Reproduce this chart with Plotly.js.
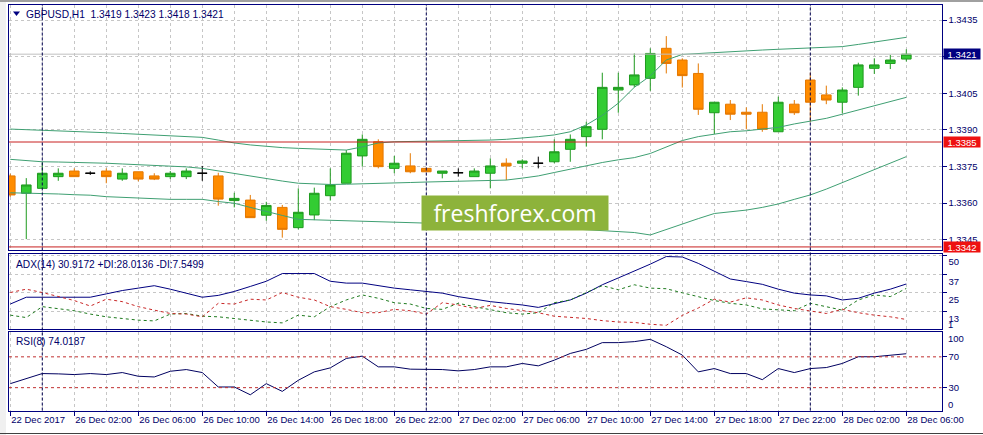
<!DOCTYPE html>
<html><head><meta charset="utf-8">
<script src="https://cdn.plot.ly/plotly-3.0.1.min.js"></script>
<style>html,body{margin:0;padding:0;background:#fff;overflow:hidden}#chart{width:983px;height:435px}</style>
</head><body><div id="chart"></div>
<script>
// ---------- DATA ----------
const timeLabels = ['22 Dec 2017','26 Dec 02:00','26 Dec 06:00','26 Dec 10:00','26 Dec 14:00','26 Dec 18:00','26 Dec 22:00','27 Dec 02:00','27 Dec 06:00','27 Dec 10:00','27 Dec 14:00','27 Dec 18:00','27 Dec 22:00','28 Dec 02:00','28 Dec 06:00'];
const symbolName = 'GBPUSD,H1';

const OPEN = [1.33711,1.33640,1.33660,1.33708,1.33731,1.33722,1.33731,1.33698,1.33728,1.33711,
1.33708,1.33708,1.33722,1.33711,1.33610,1.33612,1.33550,1.33582,1.33499,1.33551,
1.33630,1.33681,1.33793,1.33851,1.33742,1.33752,1.33742,1.33722,1.33724,1.33708,
1.33722,1.33763,1.33763,1.33763,1.33769,1.33820,1.33872,1.33902,1.34063,1.34084,
1.34111,1.34234,1.34186,1.34131,1.33970,1.34005,1.33972,1.33972,1.33892,1.34005,
1.34104,1.34043,1.34013,1.34074,1.34152,1.34172,1.34190];
const HIGH = [1.33720,1.33702,1.33767,1.33742,1.33742,1.33730,1.33742,1.33742,1.33728,1.33722,
1.33731,1.33742,1.33752,1.33724,1.33642,1.33633,1.33605,1.33592,1.33660,1.33663,
1.33742,1.33817,1.33881,1.33861,1.33793,1.33804,1.33742,1.33731,1.33742,1.33742,
1.33783,1.33783,1.33779,1.33790,1.33861,1.33881,1.33933,1.34134,1.34134,1.34213,
1.34234,1.34284,1.34193,1.34172,1.34013,1.34022,1.33992,1.34005,1.34036,1.34022,
1.34134,1.34081,1.34074,1.34175,1.34193,1.34207,1.34230];
const LOW = [1.33625,1.33452,1.33660,1.33691,1.33708,1.33715,1.33681,1.33691,1.33689,1.33694,
1.33698,1.33698,1.33691,1.33589,1.33582,1.33540,1.33527,1.33458,1.33492,1.33530,
1.33610,1.33681,1.33749,1.33742,1.33722,1.33722,1.33728,1.33701,1.33708,1.33708,
1.33660,1.33694,1.33742,1.33742,1.33763,1.33769,1.33831,1.33861,1.33970,1.34074,
1.34060,1.34131,1.34073,1.33961,1.33883,1.33940,1.33902,1.33892,1.33892,1.33961,
1.33931,1.34005,1.33968,1.34040,1.34129,1.34149,1.34180];
const CLOSE = [1.33633,1.33674,1.33722,1.33722,1.33708,1.33722,1.33708,1.33722,1.33698,1.33698,
1.33722,1.33731,1.33722,1.33616,1.33619,1.33540,1.33590,1.33492,1.33562,1.33640,
1.33674,1.33804,1.33861,1.33749,1.33763,1.33728,1.33728,1.33731,1.33724,1.33731,
1.33752,1.33752,1.33772,1.33763,1.33810,1.33861,1.33913,1.34074,1.34074,1.34125,
1.34213,1.34172,1.34122,1.33984,1.34013,1.33964,1.33964,1.33902,1.34013,1.33970,
1.34013,1.34022,1.34063,1.34166,1.34166,1.34186,1.34210];

const BB_UPPER = [1.33903,1.33901,1.33899,1.33896,1.33894,1.33891,1.33888,1.33885,1.33882,1.33878,
1.33875,1.33872,1.33869,1.33858,1.33846,1.33838,1.33831,1.33827,1.33824,1.33821,
1.33819,1.33817,1.33830,1.33846,1.33851,1.33852,1.33853,1.33854,1.33855,1.33855,
1.33858,1.33861,1.33865,1.33872,1.33879,1.33892,1.33920,1.33959,1.34009,1.34074,
1.34121,1.34186,1.34209,1.34213,1.34217,1.34221,1.34224,1.34227,1.34230,1.34232,
1.34234,1.34237,1.34241,1.34250,1.34259,1.34268,1.34279];
const BB_MIDDLE = [1.33779,1.33774,1.33769,1.33768,1.33767,1.33765,1.33763,1.33760,1.33757,1.33755,
1.33752,1.33748,1.33742,1.33731,1.33722,1.33711,1.33701,1.33690,1.33681,1.33678,
1.33676,1.33677,1.33678,1.33680,1.33682,1.33684,1.33686,1.33687,1.33689,1.33690,
1.33692,1.33694,1.33702,1.33711,1.33725,1.33739,1.33754,1.33766,1.33777,1.33786,
1.33803,1.33830,1.33856,1.33872,1.33883,1.33892,1.33896,1.33902,1.33910,1.33924,
1.33937,1.33947,1.33964,1.33981,1.33998,1.34016,1.34033];
const BB_LOWER = [1.33642,1.33641,1.33640,1.33637,1.33634,1.33632,1.33626,1.33623,1.33618,1.33615,
1.33615,1.33615,1.33615,1.33606,1.33599,1.33582,1.33564,1.33549,1.33533,1.33531,
1.33530,1.33529,1.33527,1.33526,1.33524,1.33522,1.33520,1.33518,1.33516,1.33514,
1.33512,1.33510,1.33506,1.33502,1.33498,1.33493,1.33489,1.33487,1.33483,1.33479,
1.33469,1.33492,1.33513,1.33536,1.33557,1.33564,1.33571,1.33582,1.33596,1.33615,
1.33633,1.33657,1.33683,1.33711,1.33735,1.33763,1.33790];

const ADX = [17.7,22.2,22.2,22.2,22.2,22.2,24.4,26.6,28.2,29.8,
27.5,24.9,22.2,23.4,26.0,29.3,32.7,37.8,37.8,37.8,
32.7,31.5,31.5,29.8,28.2,27.1,26.0,24.9,22.6,20.9,
19.3,18.2,17.1,15.5,18.2,20.4,24.9,30.4,34.9,39.4,
44.0,49.0,48.7,44.5,39.1,34.2,32.5,30.7,27.5,24.9,
23.7,23.1,20.4,21.5,24.9,27.5,30.9172];
const PLUS_DI = [10.4,8.8,16.0,14.8,13.3,11.1,9.3,8.2,7.1,6.6,
11.1,11.5,9.7,9.3,8.2,7.1,5.9,5.3,10.4,9.3,
16.0,20.4,23.7,21.5,18.6,17.7,14.8,14.2,18.2,16.0,
14.0,12.0,11.1,12.0,18.6,20.4,25.3,29.8,27.1,30.4,
28.2,27.8,25.1,22.6,20.0,18.2,17.1,14.5,13.7,13.3,
18.2,16.0,13.7,20.4,23.7,22.6,28.0136];
const MINUS_DI = [25.3,27.5,25.3,22.6,20.0,16.4,20.9,19.3,16.0,13.7,
11.5,11.1,9.3,18.2,17.7,20.9,20.4,25.3,22.2,20.4,
16.0,14.2,12.0,12.0,14.2,13.3,11.1,18.6,17.1,14.8,
16.8,14.8,13.3,12.0,9.7,8.8,8.2,6.8,5.9,5.6,
4.4,3.7,10.2,15.1,20.9,19.0,21.8,20.4,17.1,14.8,
13.3,11.5,14.2,12.0,10.4,9.3,7.5499];
const RSI = [35.2,41.8,48.3,47.9,47.0,48.3,47.0,49.6,44.8,43.9,
51.3,53.5,49.6,30.9,30.9,20.8,35.2,25.2,39.6,50.5,
55.7,67.9,70.9,57.0,57.0,54.0,53.5,53.5,51.8,53.5,
57.0,57.0,61.4,58.3,65.7,74.4,79.7,88.4,88.4,89.7,
92.7,83.1,72.3,50.5,54.8,48.3,48.3,40.4,54.8,49.6,
54.8,56.1,61.4,70.1,70.1,72.3,74.0187];

const priceTicks = [1.3435,1.3420,1.3405,1.3390,1.3375,1.3360,1.3345];
const hiddenPriceTick = 1.3420; // covered by the current-price box in the terminal
const priceLevels = [1.3385,1.3342];
const bidPrice = 1.3421;
const separators = [2,26,50];
const adxTicks = [50,37,25,13];
const adxMinLabel = 1;
const rsiLevels = [70,30];
const rsiBounds = [100,0];

// ---------- LAYOUT HELPERS ----------
const W = 983, H = 435;
const px = v => v / W;
const py = v => 1 - v / H;
const NAVY = '#000080';
const TXT = '#00006a';
const GRID = '#c6c6c6';
const FONT = 'Liberation Sans, Arial, sans-serif';
const FS = 9.5;
const FT = 10.2;

const idx = OPEN.map((_, i) => i);
const bodyIdx = idx.filter(i => OPEN[i] !== CLOSE[i]);
const dojiIdx = idx.filter(i => OPEN[i] === CLOSE[i]);
const pick = (arr, list) => list.map(i => arr[i]);

const labelIdx = timeLabels.map((_, k) => k * 4);
const gridIdx = labelIdx.slice(0, -1).map(v => v + 2);

const XDOM = [px(9), px(941.5)];
const XRANGE = [-0.08, 58.2];

function xAxis(anchor, labels) {
  return {
    domain: XDOM, range: XRANGE, anchor: anchor, fixedrange: true,
    showline: true, mirror: true, linecolor: NAVY, linewidth: 1, zeroline: false,
    showgrid: true, gridcolor: GRID, griddash: '3px,3px', gridwidth: 1,
    tickmode: 'array', tickvals: labelIdx, ticktext: timeLabels, tickangle: 0,
    showticklabels: labels, ticks: labels ? 'outside' : '', ticklen: 4, tickcolor: NAVY,
    ticklabelposition: 'outside right', ticklabeloverflow: 'allow',
    tickfont: {family: FONT, size: FS, color: TXT},
    minor: {tickmode: 'array', tickvals: gridIdx, showgrid: true, gridcolor: GRID, griddash: '3px,3px', gridwidth: 1, ticks: ''},
    rangeslider: {visible: false}
  };
}
function yAxis(anchor, dom, range, vals, text, extra) {
  return Object.assign({
    domain: dom, range: range, anchor: anchor, side: 'right', fixedrange: true,
    showline: true, mirror: true, linecolor: NAVY, linewidth: 1, zeroline: false,
    showgrid: true, gridcolor: GRID, griddash: '3px,3px', gridwidth: 1,
    tickmode: 'array', tickvals: vals, ticktext: text, tickangle: 0,
    ticks: 'outside', ticklen: 4, tickcolor: NAVY,
    tickfont: {family: FONT, size: FS, color: TXT}
  }, extra || {});
}

// ---------- TRACES ----------
const traces = [
  {type: 'candlestick', x: bodyIdx, open: pick(OPEN, bodyIdx), high: pick(HIGH, bodyIdx), low: pick(LOW, bodyIdx), close: pick(CLOSE, bodyIdx),
   xaxis: 'x', yaxis: 'y', hoverinfo: 'skip', whiskerwidth: 0,
   increasing: {line: {color: '#1f9a1f', width: 1}, fillcolor: '#33cc33'},
   decreasing: {line: {color: '#e57800', width: 1}, fillcolor: '#ff8c00'}},
  {type: 'candlestick', x: dojiIdx, open: pick(OPEN, dojiIdx), high: pick(HIGH, dojiIdx), low: pick(LOW, dojiIdx), close: pick(CLOSE, dojiIdx),
   xaxis: 'x', yaxis: 'y', hoverinfo: 'skip', whiskerwidth: 0,
   increasing: {line: {color: '#000000', width: 1}, fillcolor: '#000000'},
   decreasing: {line: {color: '#000000', width: 1}, fillcolor: '#000000'}},
  {type: 'scatter', mode: 'lines', x: idx, y: BB_UPPER, xaxis: 'x', yaxis: 'y', line: {color: '#3f9f72', width: 1}, hoverinfo: 'skip'},
  {type: 'scatter', mode: 'lines', x: idx, y: BB_MIDDLE, xaxis: 'x', yaxis: 'y', line: {color: '#3f9f72', width: 1}, hoverinfo: 'skip'},
  {type: 'scatter', mode: 'lines', x: idx, y: BB_LOWER, xaxis: 'x', yaxis: 'y', line: {color: '#3f9f72', width: 1}, hoverinfo: 'skip'},
  {type: 'scatter', mode: 'lines', x: idx, y: ADX, xaxis: 'x2', yaxis: 'y2', line: {color: '#000080', width: 1}, hoverinfo: 'skip'},
  {type: 'scatter', mode: 'lines', x: idx, y: PLUS_DI, xaxis: 'x2', yaxis: 'y2', line: {color: '#1e7a1e', width: 1, dash: '3px,3px'}, hoverinfo: 'skip'},
  {type: 'scatter', mode: 'lines', x: idx, y: MINUS_DI, xaxis: 'x2', yaxis: 'y2', line: {color: '#c82828', width: 1, dash: '3px,3px'}, hoverinfo: 'skip'},
  {type: 'scatter', mode: 'lines', x: idx, y: RSI, xaxis: 'x3', yaxis: 'y3', line: {color: '#000060', width: 1}, hoverinfo: 'skip'}
];

// ---------- SHAPES ----------
const shapes = [];
shapes.push({type: 'rect', xref: 'paper', yref: 'paper', x0: 0, x1: px(6), y0: 0, y1: 1, fillcolor: '#f0f0f0', line: {width: 0}, layer: 'below'});
shapes.push({type: 'line', xref: 'paper', yref: 'paper', x0: 0, x1: 1, y0: py(1), y1: py(1), line: {color: '#a0a0a0', width: 2}});
shapes.push({type: 'line', xref: 'paper', yref: 'paper', x0: 0, x1: 1, y0: py(433.5), y1: py(433.5), line: {color: '#404040', width: 1}});
shapes.push({type: 'line', xref: 'x domain', yref: 'y', x0: 0, x1: 1, y0: bidPrice, y1: bidPrice, line: {color: '#c0c0c0', width: 1}});
priceLevels.forEach(p => shapes.push({type: 'line', xref: 'x domain', yref: 'y', x0: 0, x1: 1, y0: p, y1: p, line: {color: '#c82020', width: 1}}));
rsiLevels.forEach(v => shapes.push({type: 'line', xref: 'x3 domain', yref: 'y3', x0: 0, x1: 1, y0: v, y1: v, line: {color: '#c03030', width: 1, dash: '3px,3px'}}));
separators.forEach(s => shapes.push({type: 'line', xref: 'x', yref: 'paper', x0: s, x1: s, y0: py(410.5), y1: py(5), line: {color: '#000050', width: 1, dash: '3px,2px'}}));
shapes.push({type: 'path', xref: 'paper', yref: 'paper',
  path: `M ${px(13)},${py(11.5)} L ${px(20)},${py(11.5)} L ${px(16.5)},${py(16)} Z`, fillcolor: NAVY, line: {width: 0}});

// ---------- ANNOTATIONS ----------
const f4 = v => v.toFixed(4);
const last = a => a[a.length - 1];
const ann = [];
const textAnn = (text, x, y, size) => ({text: text, xref: 'paper', yref: 'paper', x: px(x), y: py(y), xanchor: 'left', yanchor: 'middle', showarrow: false, font: {family: FONT, size: size || FS, color: TXT}});
ann.push(textAnn(`${symbolName}\u00A0\u00A0${f4(last(OPEN))} ${f4(last(HIGH))} ${f4(last(LOW))} ${f4(last(CLOSE))}`, 24, 14, FT));
ann.push(textAnn(`ADX(14) ${f4(last(ADX))} +DI:${f4(last(PLUS_DI))} -DI:${f4(last(MINUS_DI))}`, 14, 264, FT));
ann.push(textAnn(`RSI(8) ${f4(last(RSI))}`, 14, 341, FT));
const priceBox = (p, bg) => ({text: f4(p), xref: 'paper', yref: 'y', x: px(942.5), y: p, xanchor: 'left', yanchor: 'middle', showarrow: false,
  bgcolor: bg, width: 36, height: 10, borderpad: 0, font: {family: FONT, size: FS, color: '#ffffff'}});
ann.push(priceBox(bidPrice, '#000080'));
priceLevels.forEach(p => ann.push(priceBox(p, '#ee1111')));
ann.push(textAnn(String(rsiBounds[0]), 946, 338.5));
ann.push(textAnn(String(rsiBounds[1]), 946, 404.5));
ann.push(textAnn(String(adxMinLabel), 946, 324));
ann.push({text: 'freshforex.com', xref: 'paper', yref: 'paper', x: px(515), y: py(213), xanchor: 'center', yanchor: 'middle', showarrow: false,
  bgcolor: '#8db33b', width: 186, height: 34, borderpad: 0, font: {family: 'Open Sans, sans-serif', size: 23, color: '#ffffff'}});

const layout = {
  width: W, height: H, margin: {l: 0, r: 0, t: 0, b: 0},
  paper_bgcolor: '#ffffff', plot_bgcolor: 'rgba(0,0,0,0)',
  showlegend: false, hovermode: false, dragmode: false,
  boxgap: 0.2, boxgroupgap: 0.25,
  font: {family: FONT, size: FS, color: TXT},
  xaxis: xAxis('y', false),
  xaxis2: xAxis('y2', false),
  xaxis3: xAxis('y3', true),
  yaxis: yAxis('x', [py(250), py(5)], [1.334074, 1.344115], priceTicks, priceTicks.map(v => v === hiddenPriceTick ? '' : f4(v))),
  yaxis2: yAxis('x2', [py(328.5), py(253.5)], [1.6, 51.0], adxTicks, adxTicks.map(String), {ticklabelshift: 7}),
  yaxis3: yAxis('x3', [py(410.5), py(332)], [0.4, 102.2], rsiLevels, rsiLevels.map(String), {showgrid: false}),
  shapes: shapes, annotations: ann
};

Plotly.newPlot('chart', traces, layout, {staticPlot: true, displayModeBar: false});
</script>
</body></html>
